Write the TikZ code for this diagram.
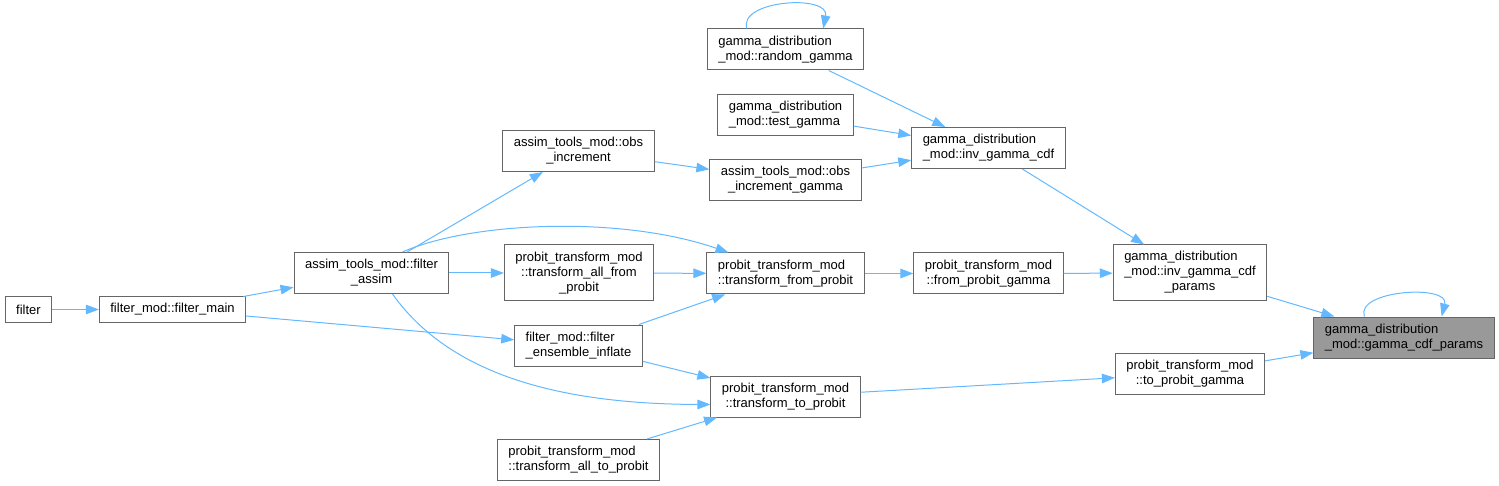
\documentclass[tikz,border=0pt]{standalone}
\usepackage{fontspec}
\setmainfont{Liberation Sans}
\usepackage{xcolor}
\usepackage{tikz}
\usetikzlibrary{arrows.meta}
\definecolor{edgeblue}{HTML}{63B8FF}
\definecolor{boxgray}{HTML}{666666}
\definecolor{rootfill}{HTML}{999999}
\tikzset{
  callnode/.style={rectangle,draw=boxgray,fill=white,line width=1pt,
    inner xsep=11pt,inner ysep=4pt,minimum height=41pt,
    font=\fontsize{13pt}{15pt}\selectfont},
  oneline/.style={minimum height=25pt},
  threeline/.style={minimum height=56pt},
  rootnode/.style={callnode,fill=rootfill},
  calledge/.style={line width=1pt,edgeblue,
    -{Triangle[length=13pt,width=9.5pt]}}
}

\begin{document}
\begin{tikzpicture}[x=1pt,y=-1pt]
  \useasboundingbox (0,0) rectangle (1499,486);

  % callers, left to right
  \node[callnode,oneline] (filter) at (28.5,309.5) {filter};
  \node[callnode,oneline] (filtermain) at (172.5,309.5) {filter\_mod::filter\_main};
  \node[callnode,align=center] (filterassim) at (371.5,273) {assim\_tools\_mod::filter\\\_assim};

  \node[callnode,align=center] (obsinc) at (578.5,151) {assim\_tools\_mod::obs\\\_increment};
  \node[callnode,threeline,align=center] (allfromprobit) at (579,273) {probit\_transform\_mod\\::transform\_all\_from\\\_probit};
  \node[callnode,align=left] (ensinflate) at (578.5,345.5) {filter\_mod::filter\\\_ensemble\_inflate};
  \node[callnode,align=left] (alltoprobit) at (578.5,460) {probit\_transform\_mod\\::transform\_all\_to\_probit};

  \node[callnode,align=left] (randomgamma) at (785.5,49.5) {gamma\_distribution\\\_mod::random\_gamma};
  \node[callnode,align=left] (testgamma) at (785.5,115) {gamma\_distribution\\\_mod::test\_gamma};
  \node[callnode,align=center] (obsincgamma) at (785.5,180) {assim\_tools\_mod::obs\\\_increment\_gamma};
  \node[callnode,align=left] (fromprobit) at (785.5,273.5) {probit\_transform\_mod\\::transform\_from\_probit};
  \node[callnode,align=center] (toprobit) at (785.5,396.5) {probit\_transform\_mod\\::transform\_to\_probit};

  \node[callnode,align=left] (invgammacdf) at (988.5,148) {gamma\_distribution\\\_mod::inv\_gamma\_cdf};
  \node[callnode,align=center] (fromprobitgamma) at (988.5,273.5) {probit\_transform\_mod\\::from\_probit\_gamma};

  \node[callnode,threeline] (invparams) at (1190,273) {\begin{tabular}{@{}l@{}}gamma\_distribution\\\_mod::inv\_gamma\_cdf\\\multicolumn{1}{@{}c@{}}{\_params}\end{tabular}};
  \node[callnode,align=center] (toprobitgamma) at (1190,373.5) {probit\_transform\_mod\\::to\_probit\_gamma};

  \node[rootnode,align=left] (cdfparams) at (1404,337.5) {gamma\_distribution\\\_mod::gamma\_cdf\_params};

  % calls
  \draw[calledge] (filter) -- (filtermain);
  \draw[calledge] (filtermain) -- (filterassim);
  \draw[calledge] (filtermain) -- (ensinflate);
  \draw[calledge] (filterassim) -- (obsinc);
  \draw[calledge] (filterassim) -- (allfromprobit);
  \draw[calledge] ([xshift=31pt]filterassim.north) .. controls (470,222) and (620,215) .. ([xshift=-57pt]fromprobit.north);
  \draw[calledge] ([xshift=21pt]filterassim.south) .. controls (450,375) and (560,404) .. ([yshift=-8pt]toprobit.west);
  \draw[calledge] (obsinc) -- (obsincgamma);
  \draw[calledge] (allfromprobit) -- (fromprobit);
  \draw[calledge] (ensinflate) -- (fromprobit);
  \draw[calledge] (ensinflate) -- (toprobit);
  \draw[calledge] (alltoprobit) -- (toprobit);
  \draw[calledge] (randomgamma) -- (invgammacdf);
  \draw[calledge] ([xshift=40pt]randomgamma.north west) .. controls (738,0) and (830,-6) .. ([xshift=-41pt]randomgamma.north east);
  \draw[calledge] (testgamma) -- (invgammacdf);
  \draw[calledge] (obsincgamma) -- (invgammacdf);
  \draw[calledge] (fromprobit) -- (fromprobitgamma);
  \draw[calledge] (toprobit) -- (toprobitgamma);
  \draw[calledge] (invgammacdf) -- (invparams);
  \draw[calledge] (fromprobitgamma) -- (invparams);
  \draw[calledge] (invparams) -- (cdfparams);
  \draw[calledge] (toprobitgamma) -- (cdfparams);
  \draw[calledge] ([xshift=51pt]cdfparams.north west) .. controls (1355,290) and (1450,284) .. ([xshift=-53pt]cdfparams.north east);
\end{tikzpicture}
\end{document}
